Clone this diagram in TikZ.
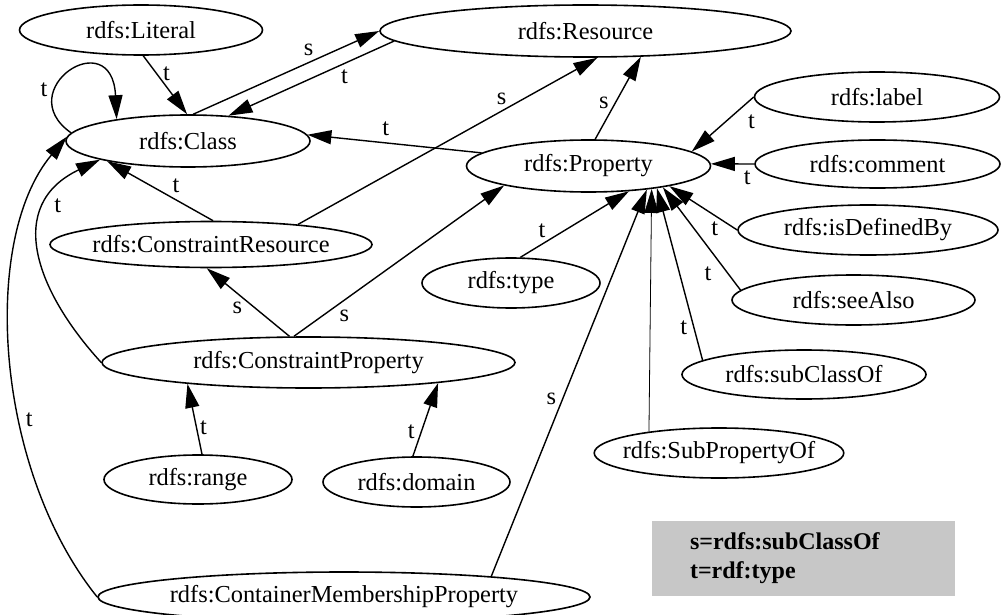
\documentclass[tikz,border=0pt]{standalone}
\usepackage{fontspec}
\setmainfont{Liberation Serif}
\usetikzlibrary{shapes.geometric,arrows.meta}

\begin{document}
\begin{tikzpicture}[x=0.5pt, y=-0.5pt,
    cls/.style={draw, ellipse, line width=0.8pt, inner xsep=-4pt, inner ysep=0pt,
        minimum height=25pt, font=\fontsize{12.2}{14}\selectfont},
    lbl/.style={font=\fontsize{12.2}{14}\selectfont, inner sep=3pt},
    arr/.style={-{Triangle[length=12pt,width=7pt]}, line width=0.7pt},
    key/.style={fill=black!22, inner xsep=19pt, text width=113.5pt, minimum height=37.5pt,
        align=left, font=\fontsize{12}{14.5}\selectfont\bfseries}]
    \useasboundingbox (0,0) rectangle (1001,615);

    \node[cls, minimum width=121.5pt] (literal) at (141,30) {rdfs:Literal};
    \node[cls, minimum width=205.5pt, minimum height=26pt] (resource) at (585.5,31) {rdfs:Resource};
    \node[cls, minimum width=122pt, minimum height=26pt] (class) at (188,141) {rdfs:Class};
    \node[cls, minimum width=122pt, minimum height=26pt] (property) at (588.5,166) {rdfs:Property};
    \node[cls, minimum width=122.5pt] (label) at (877,97) {rdfs:label};
    \node[cls, minimum width=122.5pt, minimum height=24pt] (comment) at (877.5,164) {rdfs:comment};
    \node[cls, minimum width=130pt] (definedby) at (868,230) {rdfs:isDefinedBy};
    \node[cls, minimum width=121.5pt] (seealso) at (853.5,300) {rdfs:seeAlso};
    \node[cls, minimum width=122pt, minimum height=24.5pt] (subclass) at (804,374.5) {rdfs:subClassOf};
    \node[cls, minimum width=122pt] (subprop) at (719,453) {rdfs:SubPropertyOf};
    \node[cls, minimum width=89pt] (type) at (511,283) {rdfs:type};
    \node[cls, minimum width=161pt, minimum height=23pt] (conres) at (211,244.5) {rdfs:ConstraintResource};
    \node[cls, minimum width=206.5pt, minimum height=25.5pt] (conprop) at (308.5,362.5) {rdfs:ConstraintProperty};
    \node[cls, minimum width=94pt, minimum height=24.5pt] (range) at (198,479.5) {rdfs:range};
    \node[cls, minimum width=93.5pt] (domain) at (416.5,482) {rdfs:domain};
    \node[cls, minimum width=246pt] (member) at (344,597) {rdfs:ContainerMembershipProperty};

    % into rdfs:Class
    \draw[arr] (literal.-85) -- (class.92)          node[lbl, pos=.3, right] {t};
    \draw[arr] (class.176) .. controls (10,90) and (112,22) .. (class.163)
                                                    node[lbl, pos=.32, left] {t};
    \draw[arr] (resource.183) -- (class.32)         node[lbl, pos=.3, below] {t};
    \draw[arr] (property.173) -- (class.3)          node[lbl, pos=.55, above] {t};
    \draw[arr] (conres.85) -- (class.194)           node[lbl, pos=.35, above] {t};
    \draw[arr] (conprop.west) .. controls (35,290) and (5,205) .. (class.192)
                                                    node[lbl, pos=.72, right] {t};
    \draw[arr] (member.west) .. controls (-5,470) and (-20,240) .. (class.178)
                                                    node[lbl, pos=.38, right] {t};

    % into rdfs:Resource
    \draw[arr] (class.79) -- (resource.west)        node[lbl, pos=.62, above] {s};
    \draw[arr] (conres.13) -- (resource.-66)        node[lbl, pos=.68, above] {s};
    \draw[arr] (property.76) -- (resource.-25)      node[lbl, pos=.44, left] {s};

    % into rdfs:Property
    \draw[arr] (label.west) -- (property.8)         node[lbl, pos=.2, below right] {t};
    \draw[arr] (comment.west) -- (property.1)       node[lbl, pos=.16, below] {t};
    \draw[arr] (definedby.west) -- (property.-14)   node[lbl, pos=.33, below] {t};
    \draw[arr] (seealso.175) -- (property.-16)      node[lbl, pos=.16, left=5pt] {t};
    \draw[arr] (subclass.172) -- (property.-18)     node[lbl, pos=.19, left] {t};
    \draw[arr, line width=0.4pt] (subprop.163) -- (property.-20);
    \draw[arr] (type.70) -- (property.-32)          node[lbl, pos=.2, above] {t};
    \draw[arr] (conprop.119) -- (property.193)      node[lbl, pos=.2, below right, inner sep=1.5pt] {s};
    \draw[arr] (member.8) -- (property.-22)         node[lbl, pos=.46, left] {s};

    % into the constraint nodes
    \draw[arr] (conprop.126) -- (conres.-100)       node[lbl, pos=.42, left=3pt] {s};
    \draw[arr] (range.81) -- (conprop.190)          node[lbl, pos=.38, right, inner sep=1.5pt] {t};
    \draw[arr] (domain.98) -- (conprop.-9)          node[lbl, pos=.34, left] {t};

    \node[key] (legend) at (803.5,558.5) {s=rdfs:subClassOf\\t=rdf:type};
\end{tikzpicture}
\end{document}
